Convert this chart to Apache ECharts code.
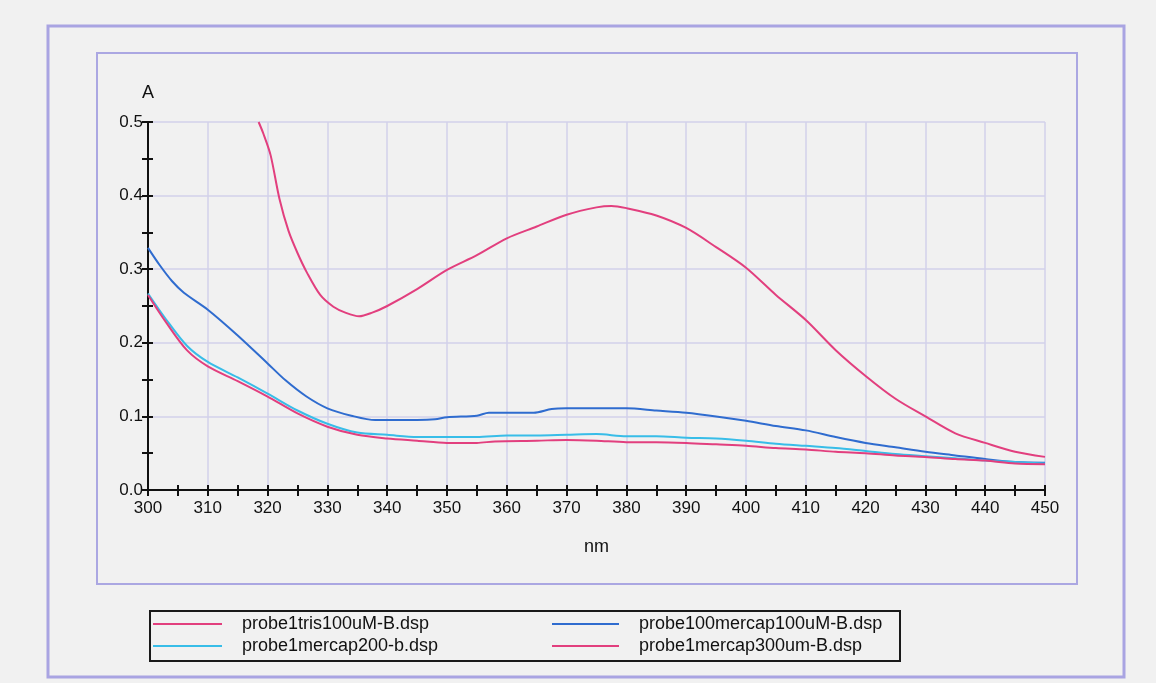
<!DOCTYPE html>
<html>
<head>
<meta charset="utf-8">
<script src="https://cdn.jsdelivr.net/npm/echarts@6/dist/echarts.min.js"></script>
<style>
  html, body { margin: 0; padding: 0; background: #f1f1f1; }
  #chart { width: 1156px; height: 683px; }
</style>
</head>
<body>
<div id="chart"></div>
<script>
// wavelength (nm) / absorbance (A)
const trisX = [318.5, 319.3, 320.5, 322, 323.5, 325, 326.6, 328.8, 331, 333, 335.3, 337.5, 340, 345, 350, 355, 360, 365, 370, 375, 377.5, 380, 385, 390, 395, 400, 405, 410, 415, 420, 425, 430, 435, 440, 445, 450];
const trisY = [0.500, 0.484, 0.455, 0.395, 0.352, 0.322, 0.295, 0.265, 0.249, 0.241, 0.236, 0.241, 0.250, 0.273, 0.299, 0.319, 0.342, 0.358, 0.374, 0.384, 0.386, 0.383, 0.373, 0.356, 0.330, 0.302, 0.265, 0.231, 0.190, 0.155, 0.124, 0.100, 0.077, 0.064, 0.052, 0.045];

const mercap100X = [300, 302, 304, 306, 310, 315, 320, 323, 326.5, 330, 334, 338, 345, 348, 350, 355, 357, 364.5, 367.5, 370, 380, 385, 390, 395, 400, 405, 410, 415, 420, 425, 430, 435, 440, 445, 450];
const mercap100Y = [0.329, 0.305, 0.284, 0.268, 0.245, 0.210, 0.172, 0.149, 0.127, 0.111, 0.101, 0.095, 0.095, 0.096, 0.099, 0.101, 0.105, 0.105, 0.110, 0.111, 0.111, 0.108, 0.105, 0.100, 0.094, 0.087, 0.081, 0.072, 0.064, 0.058, 0.052, 0.047, 0.042, 0.038, 0.037];

const mercap200X = [300, 303, 306.5, 310, 315, 320, 325, 330, 335, 340, 345, 350, 355, 360, 365, 370, 375, 380, 385, 390, 395, 400, 405, 410, 415, 420, 425, 430, 435, 440, 445, 450];
const mercap200Y = [0.267, 0.232, 0.196, 0.174, 0.153, 0.131, 0.108, 0.090, 0.078, 0.075, 0.072, 0.072, 0.072, 0.074, 0.074, 0.075, 0.076, 0.073, 0.073, 0.071, 0.070, 0.067, 0.063, 0.060, 0.057, 0.053, 0.049, 0.046, 0.043, 0.040, 0.038, 0.036];

const mercap300X = [300, 303, 306.5, 310, 315, 320, 325, 330, 335, 340, 345, 350, 355, 358, 365, 370, 375, 380, 385, 390, 395, 400, 405, 410, 415, 420, 425, 430, 435, 440, 445, 450];
const mercap300Y = [0.265, 0.228, 0.190, 0.168, 0.148, 0.127, 0.104, 0.086, 0.075, 0.070, 0.067, 0.064, 0.064, 0.066, 0.067, 0.068, 0.067, 0.065, 0.065, 0.064, 0.062, 0.060, 0.057, 0.055, 0.052, 0.050, 0.047, 0.045, 0.042, 0.040, 0.036, 0.035];

const names = ["probe1tris100uM-B.dsp", "probe100mercap100uM-B.dsp", "probe1mercap200-b.dsp", "probe1mercap300um-B.dsp"];
const colors = ["#e23f7e", "#2f6ccf", "#38bde8", "#e23f7e"];

const pairs = (xs, ys) => xs.map((x, i) => [x, ys[i]]);
const seriesData = [
  pairs(trisX, trisY),
  pairs(mercap100X, mercap100Y),
  pairs(mercap200X, mercap200Y),
  pairs(mercap300X, mercap300Y)
];

const font = "Liberation Sans, Arial, sans-serif";
const chart = echarts.init(document.getElementById("chart"));

const tickBase = {
  type: "value",
  axisLine: { show: false },
  axisLabel: { show: false },
  splitLine: { show: false }
};

const legendBase = {
  orient: "vertical", top: 614, padding: 0, itemGap: 2,
  itemHeight: 2, icon: "rect",
  textStyle: { fontFamily: font, fontSize: 18, color: "#111", lineHeight: 20, padding: [0, 0, 0, 15] }
};

const option = {
  backgroundColor: "#f1f1f1",
  animation: false,
  color: colors,
  grid: { left: 148, right: 111, top: 122, bottom: 193 },
  graphic: [
    { type: "rect", shape: { x: 48, y: 26, width: 1076, height: 651 }, style: { fill: null, stroke: "#a9a4e2", lineWidth: 3 } },
    { type: "rect", shape: { x: 97, y: 53, width: 980, height: 531 }, style: { fill: null, stroke: "#aba7e2", lineWidth: 2 } },
    { type: "rect", shape: { x: 150, y: 611, width: 750, height: 50 }, style: { fill: null, stroke: "#1a1a1a", lineWidth: 2 } }
  ],
  legend: [
    Object.assign({}, legendBase, { left: 153, itemWidth: 69, data: [names[0], names[2]] }),
    Object.assign({}, legendBase, { left: 552, itemWidth: 67, data: [names[1], names[3]] })
  ],
  xAxis: [
    {
      type: "value", min: 300, max: 450, interval: 10,
      name: "nm", nameLocation: "middle", nameGap: 48,
      nameTextStyle: { fontFamily: font, fontSize: 18, color: "#111" },
      axisLine: { show: true, lineStyle: { color: "#111", width: 2 } },
      axisTick: { show: true, length: 6, lineStyle: { color: "#111", width: 2 } },
      minorTick: { show: true, splitNumber: 2, length: 6, lineStyle: { color: "#111", width: 2 } },
      axisLabel: { fontFamily: font, fontSize: 17, color: "#111", margin: 10 },
      splitLine: { show: true, lineStyle: { color: "#d2d0ea", width: 1.5 } }
    },
    Object.assign({}, tickBase, {
      min: 300, max: 450, interval: 10, position: "bottom",
      axisTick: { show: true, inside: true, length: 5, lineStyle: { color: "#111", width: 2 } },
      minorTick: { show: true, splitNumber: 2, length: 5, lineStyle: { color: "#111", width: 2 } }
    })
  ],
  yAxis: [
    {
      type: "value", min: 0, max: 0.5, interval: 0.1,
      name: "A", nameLocation: "end", nameGap: 20,
      nameTextStyle: { fontFamily: font, fontSize: 18, color: "#111", align: "center" },
      axisLine: { show: true, lineStyle: { color: "#111", width: 2 } },
      axisTick: { show: true, length: 6, lineStyle: { color: "#111", width: 2 } },
      minorTick: { show: true, splitNumber: 2, length: 6, lineStyle: { color: "#111", width: 2 } },
      axisLabel: { fontFamily: font, fontSize: 17, color: "#111", margin: 5, formatter: v => v.toFixed(1) },
      splitLine: { show: true, lineStyle: { color: "#d2d0ea", width: 1.5 } }
    },
    Object.assign({}, tickBase, {
      min: 0, max: 0.5, interval: 0.1, position: "left",
      axisTick: { show: true, inside: true, length: 5, lineStyle: { color: "#111", width: 2 } },
      minorTick: { show: true, splitNumber: 2, length: 5, lineStyle: { color: "#111", width: 2 } }
    })
  ],
  series: names.map((name, i) => ({
    name: name,
    type: "line",
    showSymbol: false,
    smooth: 0.3,
    clip: true,
    lineStyle: { width: 2, color: colors[i] },
    itemStyle: { color: colors[i] },
    data: seriesData[i]
  }))
};

chart.setOption(option);
</script>
</body>
</html>
